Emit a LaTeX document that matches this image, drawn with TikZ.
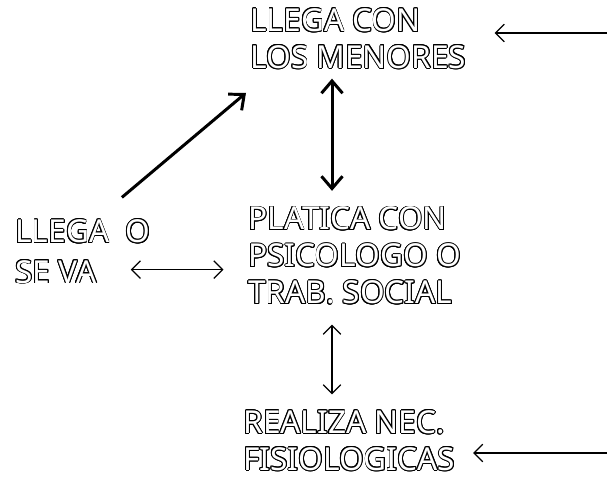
\documentclass[tikz,border=0pt]{standalone}
\usepackage{fontspec}
\setmainfont{Noto Sans}
\usepackage{contour}
\contourlength{0.5pt}
\usetikzlibrary{arrows.meta}
\newcommand{\hueco}[1]{\contour{black}{#1}}

\begin{document}
\begin{tikzpicture}[x=0.02cm,y=-0.02cm,
	caja/.style={anchor=west,inner sep=0pt,align=left,text=white,font=\fontsize{18}{21}\selectfont},
	grueso/.style={line width=1.7pt},
	fino/.style={line width=0.7pt},
	barbg/.tip={Straight Barb[length=7pt,width=12pt]},
	barbf/.tip={Straight Barb[length=5pt,width=10pt]}]
	\useasboundingbox (0,0) rectangle (607,481);
	
	\node[caja] (menores) at (250,39) {\hueco{LLEGA CON}\\\hueco{LOS MENORES}};
	\node[caja] (platica) at (248,256) {\hueco{PLATICA CON}\\\hueco{PSICOLOGO O}\\\hueco{TRAB. SOCIAL}};
	\node[caja] (realiza) at (243,441) {\hueco{REALIZA NEC.}\\\hueco{FISIOLOGICAS}};
	\node[caja,font=\fontsize{18}{23}\selectfont] (llega) at (15,252) {\hueco{LLEGA\ \ O}\\\hueco{SE VA}};
	
	\coordinate (eje) at (332,0);
	\coordinate (entA) at (607,33);
	\coordinate (entB) at (607,453);
	\coordinate (h) at ([shift={(-20,-15)}]llega.south east);
	
	% flechas
	\draw[grueso,-barbg] ([shift={(39,-22)}]llega.north) -- ([shift={(-4,23)}]menores.south west);
	\draw[grueso,barbg-barbg,shorten <=5pt,shorten >=9pt] (menores.south -| eje) -- (platica.north -| eje);
	\draw[fino,barbf-barbf,shorten <=11pt,shorten >=9pt] (platica.south -| eje) -- (realiza.north -| eje);
	\draw[fino,barbf-barbf,shorten >=14pt] (h) -- (h -| platica.west);
	\draw[fino,-barbf,shorten >=16pt] (entA) -- (entA -| menores.east);
	\draw[fino,-barbf,shorten >=10pt] (entB) -- (entB -| realiza.east);
\end{tikzpicture}
\end{document}
